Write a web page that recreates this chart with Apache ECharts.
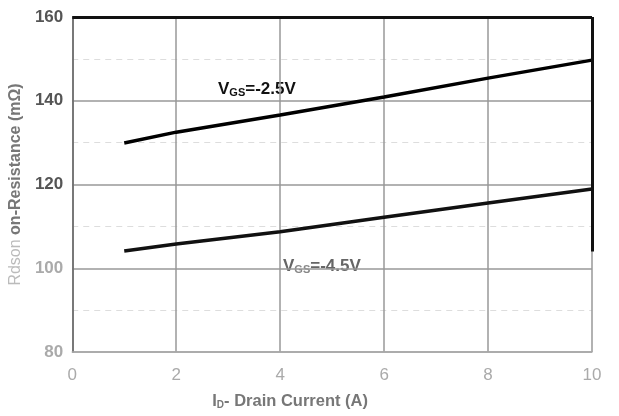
<!DOCTYPE html>
<html>
<head>
<meta charset="utf-8">
<script src="https://cdn.jsdelivr.net/npm/echarts@6/dist/echarts.min.js"></script>
<style>
  html, body { margin: 0; padding: 0; background: #fff; }
  #chart { width: 619px; height: 416px; }
</style>
</head>
<body>
<div id="chart"></div>
<script>
// drain current (A)
const current = [1, 2, 4, 6, 8, 10]
// Rds(on) in mOhm
const vgs25 = [129.9, 132.5, 136.6, 140.9, 145.4, 149.7]
const vgs45 = [104.1, 105.8, 108.7, 112.2, 115.6, 118.9]
const xTicks = [0, 2, 4, 6, 8, 10]
const yTicks = [80, 100, 120, 140, 160]

const chart = echarts.init(document.getElementById('chart'))

const pairs = (xs, ys) => xs.map((x, i) => [x, ys[i]])

chart.setOption({
  animation: false,
  grid: { left: 70, right: 27, top: 17, bottom: 64 },
  xAxis: {
    type: 'value',
    min: xTicks[0],
    max: xTicks[xTicks.length - 1],
    interval: 2,
    name: '{b|I}{s|D}{b|- Drain Current (A)}',
    nameLocation: 'middle',
    nameGap: 40,
    nameTextStyle: {
      padding: [0, 84, 0, 0],
      rich: {
        b: { fontFamily: 'Liberation Sans', fontWeight: 'bold', fontSize: 16.5, color: '#777' },
        s: { fontFamily: 'Liberation Sans', fontWeight: 'bold', fontSize: 10, color: '#777', padding: [8, 0, 0, 0] }
      }
    },
    axisLine: { show: true, lineStyle: { color: '#aaa', width: 1.5 } },
    axisTick: { show: false },
    axisLabel: {
      margin: 15,
      fontFamily: 'Liberation Sans Narrow, Liberation Sans',
      fontSize: 17,
      color: '#aaa'
    },
    splitLine: { show: true, lineStyle: { color: '#999', width: 1.5 } }
  },
  yAxis: {
    type: 'value',
    min: yTicks[0],
    max: yTicks[yTicks.length - 1],
    interval: 20,
    name: '{l|Rdson }{d|on-Resistance (mΩ)}',
    nameLocation: 'middle',
    nameGap: 48,
    nameTextStyle: {
      rich: {
        l: { fontFamily: 'Liberation Sans', fontSize: 16, color: '#bbb' },
        d: { fontFamily: 'Liberation Sans', fontWeight: 'bold', fontSize: 16, color: '#777' }
      }
    },
    axisLine: { show: true, lineStyle: { color: '#666', width: 1.5 } },
    axisTick: { show: false },
    axisLabel: {
      margin: 9,
      fontFamily: 'Liberation Sans',
      fontWeight: 'bold',
      fontSize: 17,
      color: (v) => (v <= 100 ? '#aaa' : '#555')
    },
    splitLine: { show: true, lineStyle: { color: '#999', width: 1.5 } },
    minorTick: { show: false, splitNumber: 2 },
    minorSplitLine: { show: true, lineStyle: { color: '#ddd', type: [6, 5], width: 1 } }
  },
  series: [
    {
      type: 'line',
      data: pairs(current, vgs25),
      symbol: 'none',
      lineStyle: { color: '#000', width: 3.5 }
    },
    {
      type: 'line',
      data: pairs(current, vgs45),
      symbol: 'none',
      lineStyle: { color: '#111', width: 3.5 },
      markLine: {
        silent: true,
        symbol: 'none',
        label: { show: false },
        data: [
          [{ coord: [0, 160] }, { coord: [10, 160] }],
          [{ coord: [10, 160] }, { coord: [10, 104] }]
        ],
        lineStyle: { color: '#111', width: 3, type: 'solid' }
      }
    }
  ],
  graphic: [
    {
      type: 'text',
      left: 218,
      top: 81,
      style: {
        text: '{b|V}{s|GS}{b|=-2.5V}',
        rich: {
          b: { fontFamily: 'Liberation Sans', fontWeight: 'bold', fontSize: 17, fill: '#111' },
          s: { fontFamily: 'Liberation Sans', fontWeight: 'bold', fontSize: 11, fill: '#111', padding: [6, 0, 0, 0] }
        }
      }
    },
    {
      type: 'text',
      left: 283,
      top: 258,
      style: {
        text: '{b|V}{s|GS}{b|=-4.5V}',
        rich: {
          b: { fontFamily: 'Liberation Sans', fontWeight: 'bold', fontSize: 17, fill: '#666' },
          s: { fontFamily: 'Liberation Sans', fontWeight: 'bold', fontSize: 11, fill: '#888', padding: [6, 0, 0, 0] }
        }
      }
    }
  ]
})
</script>
</body>
</html>
